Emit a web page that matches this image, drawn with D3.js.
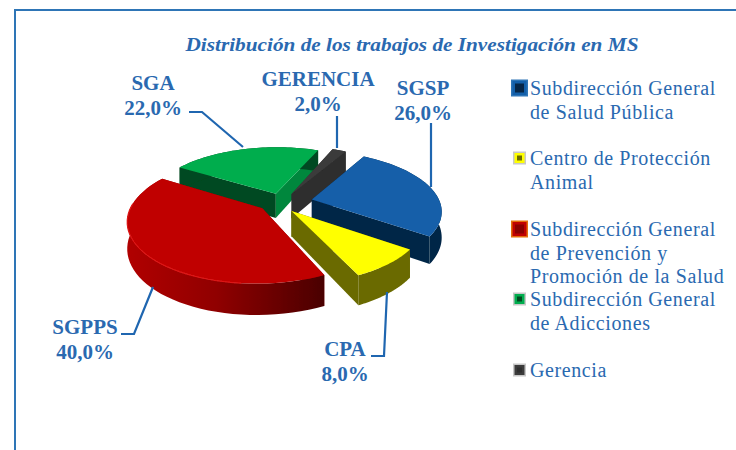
<!DOCTYPE html>
<html>
<head>
<meta charset="utf-8">
<script src="https://cdn.jsdelivr.net/npm/d3@7"></script>
<style>
    html, body { margin: 0; padding: 0; background: #fff; }
    svg { display: block; font-family: "Liberation Serif", serif; }
</style>
</head>
<body>
<svg id="chart" width="736" height="450"></svg>
<script>
var title = "Distribución de los trabajos de Investigación en MS";
var shortNames = ["SGSP", "CPA", "SGPPS", "SGA", "GERENCIA"];
var values = [26, 8, 40, 22, 2];
var legendLines = [
    ["Subdirección General", "de Salud Pública"],
    ["Centro de Protección", "Animal"],
    ["Subdirección General", "de Prevención y", "Promoción de la Salud"],
    ["Subdirección General", "de Adicciones"],
    ["Gerencia"]
];

var textBlue = "#2a69b0";
var topColors = ["#135fa9", "#ffff00", "#c00000", "#00ad4e", "#3b3b3b"];
var wallColors = ["#062647", "#6b6b00", "#8a0000", "#004a20", "#2e2e2e"];
var endCutColors = ["#062647", "#6b6b00", "#8a0000", "#00873c", "#2e2e2e"];
var explode = [0.2, 0.09, 0.26, 0.19, 0.1];
// small screen corrections per slice, the perspective is only approximate
var nudge = [[0, 1], [-3, 6], [1, -3], [-4, 3], [-1, -2]];

// fake perspective: x right, y towards the viewer
var cx = 287, cy = 201, R = 128, squash = 58, persp = 0.175, depth = 25;

function project(x, y, z) {
    var s = 1 / (1 - persp * y);
    return [cx + x * R * s, cy + y * squash * s + z * depth * s];
}

function polar(a, r) {
    return [Math.sin(a) * r, -Math.cos(a) * r];
}

var svg = d3.select("#chart");
var line = d3.line();

var defs = svg.append("defs");
defs.append("filter").attr("id", "soft")
    .append("feGaussianBlur").attr("stdDeviation", 0.5);
var redWall = defs.append("linearGradient").attr("id", "redWall")
    .attr("gradientUnits", "userSpaceOnUse")
    .attr("x1", 127).attr("x2", 323).attr("y1", 0).attr("y2", 0);
redWall.append("stop").attr("offset", "0").attr("stop-color", "#b00000");
redWall.append("stop").attr("offset", "0.45").attr("stop-color", "#900000");
redWall.append("stop").attr("offset", "1").attr("stop-color", "#4a0000");

// frame, only top and left are inside the picture
svg.append("rect")
    .attr("x", 15).attr("y", 10).attr("width", 760).attr("height", 480)
    .attr("fill", "none").attr("stroke", "#2e75b6").attr("stroke-width", 2);

svg.append("text")
    .attr("x", 412).attr("y", 51)
    .attr("text-anchor", "middle")
    .attr("font-size", 19).attr("font-weight", "bold").attr("font-style", "italic")
    .attr("textLength", 453).attr("lengthAdjust", "spacingAndGlyphs")
    .attr("fill", textBlue)
    .text(title);

var pie = d3.pie().sort(null)
    .startAngle(30 * Math.PI / 180)
    .endAngle(390 * Math.PI / 180);
var arcs = pie(values);

function slicePoints(d, i) {
    var mid = (d.startAngle + d.endAngle) / 2;
    var off = polar(mid, explode[i]);
    var n = 48;
    var outer = d3.range(n + 1).map(function (k) {
        var a = d.startAngle + (d.endAngle - d.startAngle) * k / n;
        var p = polar(a, 1);
        return [p[0] + off[0], p[1] + off[1]];
    });
    return { off: off, outer: outer };
}

var g = svg.append("g").attr("filter", "url(#soft)");
var drawOrder = [3, 4, 0, 2, 1];

drawOrder.forEach(function (i) {
    var d = arcs[i];
    var sp = slicePoints(d, i);
    var first = sp.outer[0], last = sp.outer[sp.outer.length - 1];
    var slice = g.append("g")
        .attr("transform", "translate(" + nudge[i][0] + "," + nudge[i][1] + ")");

    function flat(pts, z) {
        return pts.map(function (p) { return project(p[0], p[1], z); });
    }

    // the two cut faces
    slice.append("path")
        .attr("d", line(flat([sp.off, first], 0).concat(flat([first, sp.off], 1))) + "Z")
        .attr("fill", wallColors[i]);
    slice.append("path")
        .attr("d", line(flat([sp.off, last], 0).concat(flat([last, sp.off], 1))) + "Z")
        .attr("fill", endCutColors[i]);

    // outer wall
    slice.append("path")
        .attr("d", line(flat(sp.outer, 0).concat(flat(sp.outer.slice().reverse(), 1))) + "Z")
        .attr("fill", i == 2 ? "url(#redWall)" : wallColors[i]);

    // top face
    slice.append("path")
        .attr("d", line(flat([sp.off].concat(sp.outer), 0)) + "Z")
        .attr("fill", topColors[i]);

    // lit rim on the red slice
    if (i == 2) {
        slice.append("path")
            .attr("d", line(flat(sp.outer.slice(10, 40), 0)))
            .attr("fill", "none").attr("stroke", "#dc1414").attr("stroke-width", 1.2);
    }
});

// labels and leaders, placed by hand like in the original
var labelSpots = [
    { x: 423, y: 95, leader: [[431, 123], [431, 187]] },
    { x: 345, y: 356, leader: [[371, 356], [384, 356], [387, 292]] },
    { x: 85, y: 334, leader: [[121, 334], [134, 334], [153, 287]] },
    { x: 153, y: 90, leader: [[189, 112], [202, 112], [243, 147]] },
    { x: 318, y: 86, leader: [[337, 116], [337, 148]] }
];

labelSpots.forEach(function (spot, i) {
    svg.append("path")
        .attr("d", line(spot.leader))
        .attr("fill", "none").attr("stroke", "#1f66b0").attr("stroke-width", 2.2);
    var t = svg.append("text")
        .attr("text-anchor", "middle")
        .attr("font-size", 21).attr("font-weight", "bold")
        .attr("fill", textBlue);
    t.append("tspan").attr("x", spot.x).attr("y", spot.y).text(shortNames[i]);
    t.append("tspan").attr("x", spot.x).attr("y", spot.y + 24.5)
        .text(d3.format(".1f")(values[i]).replace(".", ",") + "%");
});

// legend
var legendY = [95, 165, 236, 306, 377];
var legendKey = [17, 13, 17, 13, 13];
var legendBorder = ["#2e75b6", "#c8c8c8", "#e46c0a", "#c8c8c8", "#c8c8c8"];

legendLines.forEach(function (lines, i) {
    var k = legendKey[i];
    var kx = 519.5 - k / 2, ky = legendY[i] - 7 - k / 2;
    svg.append("rect").attr("x", kx).attr("y", ky).attr("width", k).attr("height", k)
        .attr("fill", legendBorder[i]);
    svg.append("rect").attr("x", kx + 1.5).attr("y", ky + 1.5).attr("width", k - 3).attr("height", k - 3)
        .attr("fill", topColors[i]);
    svg.append("rect").attr("x", kx + 4).attr("y", ky + 4).attr("width", k - 8).attr("height", k - 8)
        .attr("fill", wallColors[i]);

    var t = svg.append("text")
        .attr("font-size", 20).attr("letter-spacing", 0.6).attr("fill", textBlue);
    lines.forEach(function (s, j) {
        t.append("tspan").attr("x", 530).attr("y", legendY[i] + j * 23.7).text(s);
    });
});
</script>
</body>
</html>
